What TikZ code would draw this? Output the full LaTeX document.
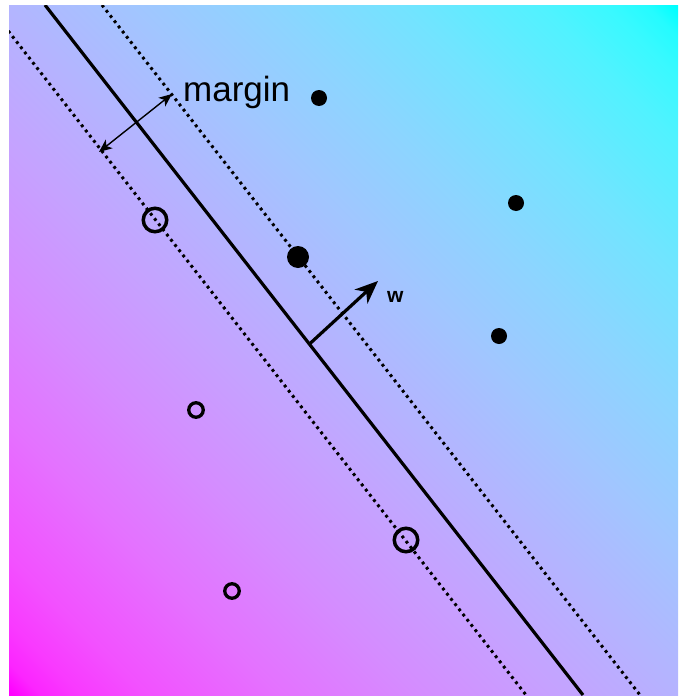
\documentclass[tikz,border=0pt]{standalone}
\usepackage{fontspec}
\setmainfont{Liberation Sans}
\usetikzlibrary{arrows.meta}
\definecolor{sa}{RGB}{255,0,255}
\definecolor{sb}{RGB}{252,36,255}
\definecolor{sc}{RGB}{249,57,255}
\definecolor{sd}{RGB}{242,81,255}
\definecolor{se}{RGB}{228,114,255}
\definecolor{sf}{RGB}{213,140,255}
\definecolor{sg}{RGB}{198,161,255}
\definecolor{sh}{RGB}{180,180,255}
\definecolor{si}{RGB}{161,198,255}
\definecolor{sj}{RGB}{140,213,255}
\definecolor{sk}{RGB}{114,228,255}
\definecolor{sl}{RGB}{81,242,255}
\definecolor{sm}{RGB}{57,249,255}
\definecolor{sn}{RGB}{36,252,255}
\definecolor{so}{RGB}{0,255,255}
\pgfdeclarehorizontalshading{svmbg}{100bp}{color(0bp)=(sa); color(14.64bp)=(sa); color(16.06bp)=(sb); color(18.18bp)=(sc); color(21.71bp)=(sd); color(28.78bp)=(se); color(35.85bp)=(sf); color(42.92bp)=(sg); color(50bp)=(sh); color(57.07bp)=(si); color(64.14bp)=(sj); color(71.21bp)=(sk); color(78.28bp)=(sl); color(81.82bp)=(sm); color(83.94bp)=(sn); color(85.36bp)=(so); color(100bp)=(so)}
\begin{document}
\begin{tikzpicture}[x=1pt,y=-1pt,
  sepline/.style={line width=3.2pt},
  margline/.style={line width=3pt, dash pattern=on 2.8pt off 3.8pt},
  posdot/.style={circle, fill=black, inner sep=0pt, minimum size=16pt},
  posbig/.style={circle, fill=black, inner sep=0pt, minimum size=22pt},
  negdot/.style={circle, draw=black, line width=3.3pt, inner sep=0pt, minimum size=14.5pt},
  negbig/.style={circle, draw=black, line width=3.5pt, inner sep=0pt, minimum size=23.5pt},
  marrow/.style={line width=1.4pt, {Stealth[length=13pt,width=11pt,inset=3.5pt]}-{Stealth[length=13pt,width=11pt,inset=3.5pt]}},
  warrow/.style={line width=3.2pt, -{Stealth[length=23pt,width=19pt,inset=7pt]}}]
\useasboundingbox (0,0) rectangle (678,696);
\shade[shading=svmbg, shading angle=45] (9,5) rectangle (678,695);
\begin{scope}
  \clip (9,5) rectangle (678,695);
  \coordinate (sTop) at (45,5);
  \coordinate (sBot) at (583,695);
  \coordinate (uTop) at (102,5);
  \coordinate (uBot) at (640,695);
  \coordinate (lTop) at (-12,5);
  \coordinate (lBot) at (526,695);
  \draw[sepline] (sTop) -- (sBot);
  \draw[margline] (uTop) -- (uBot);
  \draw[margline] (lTop) -- (lBot);
\end{scope}
\coordinate (mA) at (99,152);
\coordinate (mB) at (172,94);
\draw[marrow] (mA) -- (mB);
\coordinate (wBase) at (309.5,344);
\coordinate (wTip) at (378,281);
\draw[warrow] (wBase) -- (wTip);
\node[anchor=base west, font=\fontsize{35}{40}\selectfont, inner sep=0pt] (mlabel) at (183,101) {margin};
\node[anchor=base west, font=\bfseries\fontsize{21}{24}\selectfont, inner sep=0pt] (wlabel) at (387,302) {w};
\node[posdot] (p1) at (319,98) {};
\node[posdot] (p2) at (516,203) {};
\node[posdot] (p3) at (499,336) {};
\node[posbig] (p4) at (298,257) {};
\node[negbig] (n1) at (155,220) {};
\node[negbig] (n2) at (406,540) {};
\node[negdot] (n3) at (196,410) {};
\node[negdot] (n4) at (232,591) {};
\end{tikzpicture}
\end{document}
